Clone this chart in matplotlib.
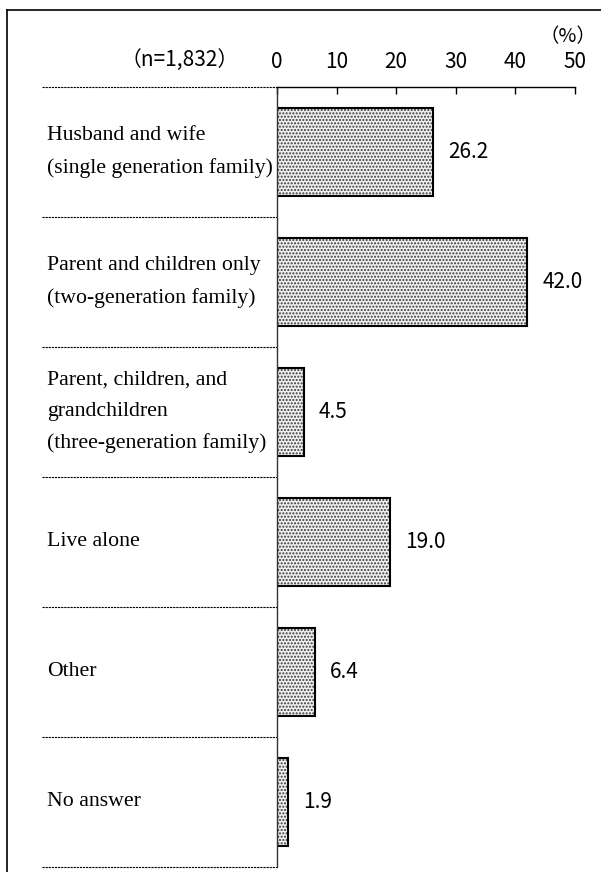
import numpy as np
import matplotlib
matplotlib.use("Agg")
import matplotlib.pyplot as plt
from matplotlib.lines import Line2D
import matplotlib.transforms as mtransforms

# data
categorias = ["Husband and wife\n(single generation family)",
              "Parent and children only\n(two-generation family)",
              "Parent, children, and\ngrandchildren\n(three-generation family)",
              "Live alone",
              "Other",
              "No answer"]
valores = [26.2, 42.0, 4.5, 19.0, 6.4, 1.9]
ticks_x = [0, 10, 20, 30, 40, 50]
n_label = "（n=1,832）"
unidade = "（%）"

W, H = 601, 872
fig = plt.figure(figsize=(W / 100, H / 100), dpi=100)
ax = fig.add_axes([277 / W, 5 / H, 298 / W, 780 / H])

sans = ["Noto Sans CJK JP", "Noto Sans CJK SC", "DejaVu Sans"]
serif = ["Liberation Serif", "DejaVu Serif"]

y = np.arange(len(valores))
# preenchimento pontilhado, depois o contorno preto
ax.barh(y, valores, height=0.67, color="#f0f0f0", edgecolor="#383838",
        hatch=".....", linewidth=0)
ax.barh(y, valores, height=0.67, color="none", edgecolor="k", linewidth=1.5)

ax.set_xlim(0, 50)
ax.set_ylim(len(valores) - 0.5, -0.5)

for s in ["right", "bottom"]:
    ax.spines[s].set_visible(False)
ax.spines["top"].set_linewidth(1.0)
ax.spines["left"].set_linewidth(1.0)
ax.spines["left"].set_color("#333333")

ax.xaxis.tick_top()
ax.set_xticks(ticks_x)
ax.set_xticklabels([str(t) for t in ticks_x], family=sans, fontsize=15)
ax.tick_params(axis="x", direction="in", length=5, width=1, pad=10)
ax.set_yticks([])

# rotulos de valor
for i, v in enumerate(valores):
    ax.text(v + 2.5, i, f"{v:.1f}", va="center", ha="left",
            family=sans, fontsize=15)

trans = mtransforms.blended_transform_factory(ax.transAxes, ax.transData)
x0 = (42 - 277) / 298
for b in np.arange(-0.5, len(valores), 1.0):
    ax.plot([x0, 0], [b, b], transform=trans, color="k", lw=0.8,
            linestyle=(0, (2.0, 0.8)), clip_on=False)

for i, c in enumerate(categorias):
    ax.text((47 - 277) / 298, i, c, transform=trans, va="center", ha="left",
            family=serif, fontsize=15.7, linespacing=1.85)

ax.text((180 - 277) / 298, 1 + 27 / 780, n_label, transform=ax.transAxes,
        ha="center", va="center", family=sans, fontsize=15)
ax.text((568 - 277) / 298, 1 + 50 / 780, unidade, transform=ax.transAxes,
        ha="center", va="center", family=sans, fontsize=14)

# moldura externa
fig.add_artist(Line2D([7 / W, 7 / W], [0, 1 - 10 / H], transform=fig.transFigure,
                      color="k", lw=1.2))
fig.add_artist(Line2D([7 / W, 1], [1 - 10 / H, 1 - 10 / H], transform=fig.transFigure,
                      color="k", lw=1.2))

fig.savefig("out.png", dpi=100)
